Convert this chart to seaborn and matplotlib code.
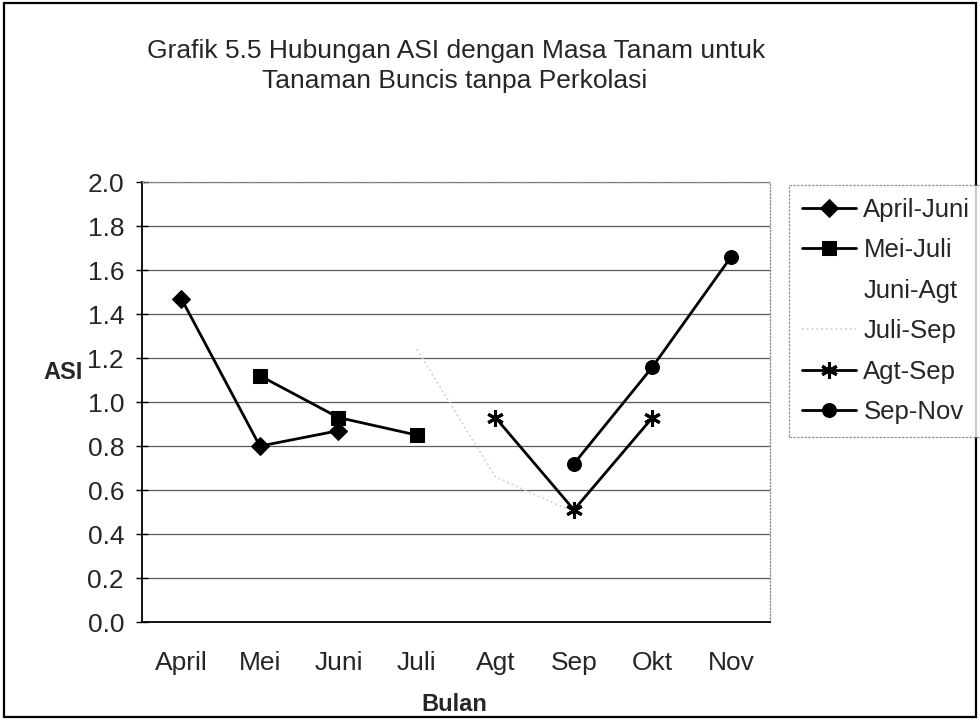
import matplotlib
matplotlib.use("Agg")
import matplotlib.pyplot as plt
import pandas as pd
import seaborn as sns
from matplotlib.lines import Line2D
from matplotlib.patches import Rectangle

# --- data ---
months = ["April", "Mei", "Juni", "Juli", "Agt", "Sep", "Okt", "Nov"]
series_names = ["April-Juni", "Mei-Juli", "Juni-Agt", "Juli-Sep", "Agt-Sep", "Sep-Nov"]
start_month = ["April", "Mei", "Juni", "Juli", "Agt", "Sep"]

april_juni = [1.47, 0.80, 0.87]
mei_juli = [1.12, 0.93, 0.85]
juni_agt = []  # not visible in the scan (light colour lost)
juli_sep = [1.24, 0.66, 0.50]  # very faint in the scan
agt_sep = [0.93, 0.51, 0.93]
sep_nov = [0.72, 1.16, 1.66]

series_values = [april_juni, mei_juli, juni_agt, juli_sep, agt_sep, sep_nov]

rows = []
for name, start, vals in zip(series_names, start_month, series_values):
    i0 = months.index(start)
    for k, v in enumerate(vals):
        rows.append({"Seri": name, "Bulan": i0 + k, "ASI": v})
df = pd.DataFrame(rows)

styles = {
    "April-Juni": dict(marker="D", markersize=9, color="black", linewidth=2),
    "Mei-Juli": dict(marker="s", markersize=9.5, color="black", linewidth=2),
    "Juni-Agt": dict(marker="", color="none", linewidth=1),
    "Juli-Sep": dict(marker="", color="#d4d4d4", linewidth=1.3, linestyle=":"),
    "Agt-Sep": dict(marker=(6, 2, 0), markersize=12, markeredgewidth=2.2,
                    color="black", linewidth=2),
    "Sep-Nov": dict(marker="o", markersize=10, color="black", linewidth=2),
}

sns.set_theme(style="white")
plt.rcParams["font.family"] = ["Liberation Sans", "DejaVu Sans"]

fig = plt.figure(figsize=(9.8, 7.2), dpi=100)
ax = fig.add_axes([0.145, 0.136, 0.641, 0.611])

for name in series_names:
    sub = df[df["Seri"] == name]
    if sub.empty:
        continue
    sns.lineplot(x=sub["Bulan"].to_numpy(), y=sub["ASI"].to_numpy(), ax=ax,
                 label=name, legend=False, sort=False, estimator=None,
                 markeredgecolor=styles[name]["color"], **styles[name])

ax.set_xlim(-0.5, len(months) - 0.5)
ax.set_ylim(0, 2.0)
ax.set_yticks([i / 10 for i in range(0, 21, 2)])
ax.set_yticklabels([f"{i / 10:.1f}" for i in range(0, 21, 2)], fontsize=19)
ax.set_xticks(range(len(months)))
ax.set_xticklabels(months, fontsize=19)
ax.set_xticks([i - 0.5 for i in range(len(months) + 1)], minor=True)
ax.tick_params(axis="x", which="major", length=0, pad=21)
ax.tick_params(axis="x", which="minor", direction="out", length=5, width=1, color="black")
ax.tick_params(axis="y", which="major", direction="inout", length=8, width=1,
               color="black", pad=9, left=True)
ax.yaxis.grid(True, color="#5a5a5a", linewidth=0.9)
ax.xaxis.grid(False)
ax.set_xlabel("")
ax.set_ylabel("")

for side in ["left", "bottom"]:
    ax.spines[side].set_color("black")
    ax.spines[side].set_linewidth(1.3)
for side in ["top", "right"]:
    ax.spines[side].set_color("#8a8a8a")
    ax.spines[side].set_linewidth(0.9)
    ax.spines[side].set_linestyle(":")

fig.text(0.064, 0.483, "ASI", fontsize=17, fontweight="bold", ha="center", va="center")
fig.text(0.464, 0.021, "Bulan", fontsize=17, fontweight="bold", ha="center", va="center")
fig.text(0.465, 0.929, "Grafik 5.5 Hubungan ASI dengan Masa Tanam untuk",
         fontsize=19, ha="center", va="center")
fig.text(0.464, 0.887, "Tanaman Buncis tanpa Perkolasi",
         fontsize=19, ha="center", va="center")

handles, labels = ax.get_legend_handles_labels()
lookup = dict(zip(labels, handles))
leg_handles = []
for name in series_names:
    if name in lookup:
        leg_handles.append(lookup[name])
    else:
        leg_handles.append(Line2D([], [], color="none"))
if ax.get_legend() is not None:
    ax.get_legend().remove()

leg = fig.legend(leg_handles, series_names, loc="upper left",
                 bbox_to_anchor=(0.805, 0.743), fontsize=18.5, frameon=True,
                 fancybox=False, edgecolor="#777777", handlelength=2.1,
                 handletextpad=0.3, labelspacing=0.64, borderpad=0.5,
                 borderaxespad=0)
leg.get_frame().set_linestyle((0, (2, 1)))
leg.get_frame().set_linewidth(0.9)

fig.patches.append(Rectangle((0.004, 0.004), 0.992, 0.992, transform=fig.transFigure,
                             fill=False, edgecolor="black", linewidth=1.6))

fig.savefig("out.png", dpi=100)
